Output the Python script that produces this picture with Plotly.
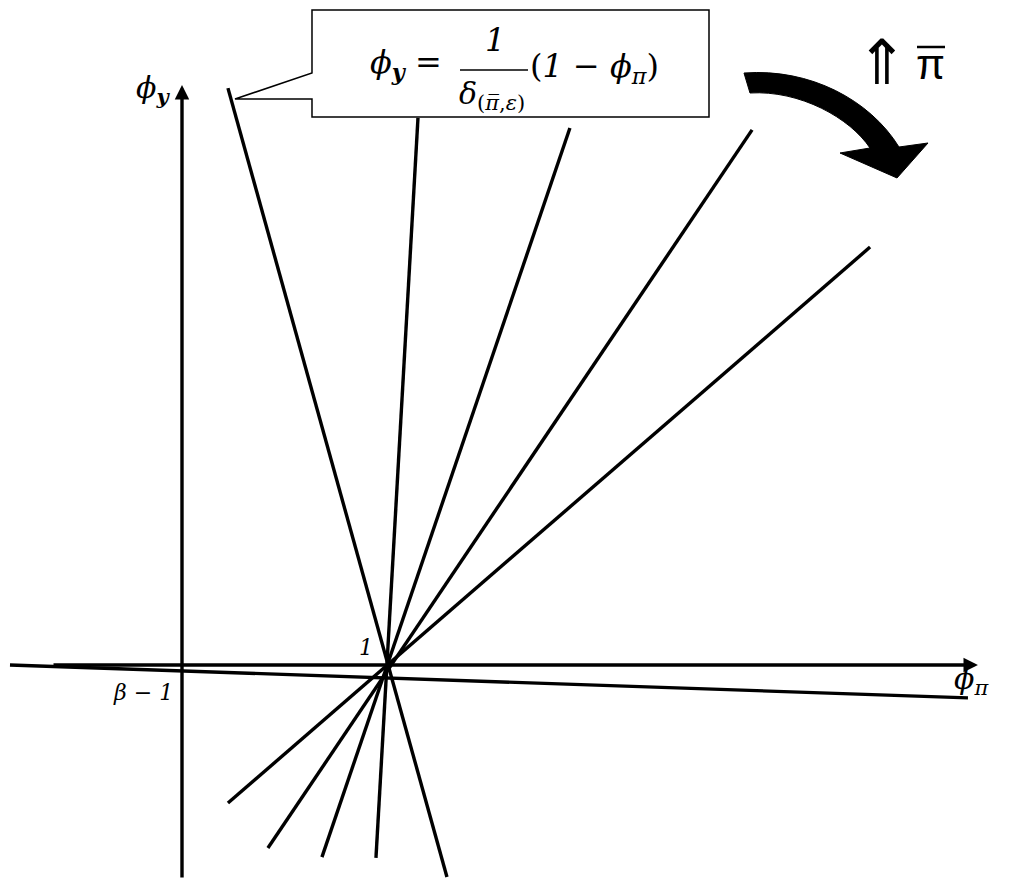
import plotly.graph_objects as go

W, H = 1017, 879
# one data unit = 207 px, axes cross at pixel (182, 665)
UNIT = 207.0
OX, OY = 182.0, 665.0

# rays through (1, 0): upper/right end and lower/left end
x_top = [0.222, 1.140, 1.874, 2.754, 3.324, 3.797]
y_top = [2.787, 2.643, 2.594, 2.585, 2.019, -0.159]
x_bot = [1.280, 0.937, 0.676, 0.415, 0.222, -0.831]
y_bot = [-1.024, -0.932, -0.928, -0.884, -0.667, 0.0]

# axis extents (data units)
x_axis = [-0.628, 3.845]
y_axis = [-1.034, 2.802]


def p(px_, py_):
    # pixel -> paper coords (margins are zero)
    return px_ / W, 1 - py_ / H


def path(cmds):
    out = []
    for c in cmds:
        if isinstance(c, str):
            out.append(c)
        else:
            x, y = p(*c)
            out.append(f"{x:.5f},{y:.5f}")
    return " ".join(out)


def hline(xa, xb, y, width):
    x0, y0 = p(xa, y)
    x1, y1 = p(xb, y)
    fig.add_shape(type="line", xref="paper", yref="paper", x0=x0, y0=y0, x1=x1, y1=y1,
                  line=dict(color="black", width=width), layer="above")


fig = go.Figure()

for i in range(len(x_top)):
    fig.add_trace(go.Scatter(
        x=[x_bot[i], x_top[i]], y=[y_bot[i], y_top[i]],
        mode="lines", line=dict(color="black", width=3.4),
        hoverinfo="skip", showlegend=False))

# axes with arrowheads
fig.add_annotation(x=x_axis[1], y=0, ax=x_axis[0], ay=0, xref="x", yref="y",
                   axref="x", ayref="y", showarrow=True, arrowhead=2,
                   arrowsize=0.85, arrowwidth=3.4, arrowcolor="black", text="")
fig.add_annotation(x=0, y=y_axis[1], ax=0, ay=y_axis[0], xref="x", yref="y",
                   axref="x", ayref="y", showarrow=True, arrowhead=2,
                   arrowsize=0.85, arrowwidth=3.4, arrowcolor="black", text="")

# callout box
fig.add_shape(type="path", xref="paper", yref="paper",
              path=path(["M", (312, 10), "L", (709, 10), "L", (709, 117), "L", (312, 117),
                         "L", (312, 99), "L", (235, 99), "L", (312, 73), "Z"]),
              fillcolor="white", line=dict(color="black", width=1.5), layer="above")
hline(460, 528, 70, 1.5)   # fraction bar
hline(917, 945, 47, 2.5)   # bar over pi

# curved arrow
fig.add_shape(type="path", xref="paper", yref="paper",
              path=path(["M", (744, 73), "C", (810, 68), (870, 100), (899, 147),
                         "L", (928, 143), "L", (897, 178), "L", (840, 153), "L", (870, 148),
                         "C", (850, 118), (800, 90), (750, 93), "Z"]),
              fillcolor="black", line=dict(color="black", width=1), layer="above")

serif = "DejaVu Serif"


def label(px_, py_, text, size, family=serif, anchor="center"):
    x, y = p(px_, py_)
    fig.add_annotation(x=x, y=y, xref="paper", yref="paper", text=text,
                       showarrow=False, xanchor=anchor, yanchor="middle",
                       font=dict(family=family, size=size, color="black"))


label(368, 64, "<i>ϕ</i><sub><b><i>y</i></b></sub> =", 32, anchor="left")
label(495, 40, "<i>1</i>", 32)
label(492, 96, "<i>δ</i><sub>(<i>π\u0305</i>,<i>ε</i>)</sub>", 30)
label(528, 68, "(<i>1</i> − <i>ϕ</i><sub><i>π</i></sub>)", 32, anchor="left")

label(882, 62, "⇑", 62, family="DejaVu Sans")
label(930, 64, "π", 42, family="Liberation Sans")

label(134, 90, "<i>ϕ</i><sub><b><i>y</i></b></sub>", 30, anchor="left")
label(952, 680, "<i>ϕ</i><sub><i>π</i></sub>", 30, anchor="left")
label(366, 647, "<i>1</i>", 22)
label(143, 692, "<i>β</i> − <i>1</i>", 22)

fig.update_xaxes(range=[-OX / UNIT, (W - OX) / UNIT], visible=False, fixedrange=True)
fig.update_yaxes(range=[(OY - H) / UNIT, OY / UNIT], visible=False, fixedrange=True)
fig.update_layout(width=W, height=H, margin=dict(l=0, r=0, t=0, b=0),
                  plot_bgcolor="white", paper_bgcolor="white", showlegend=False)

fig.write_html("out.html", config={"displayModeBar": False},
               post_script="document.body.style.margin='0';")
